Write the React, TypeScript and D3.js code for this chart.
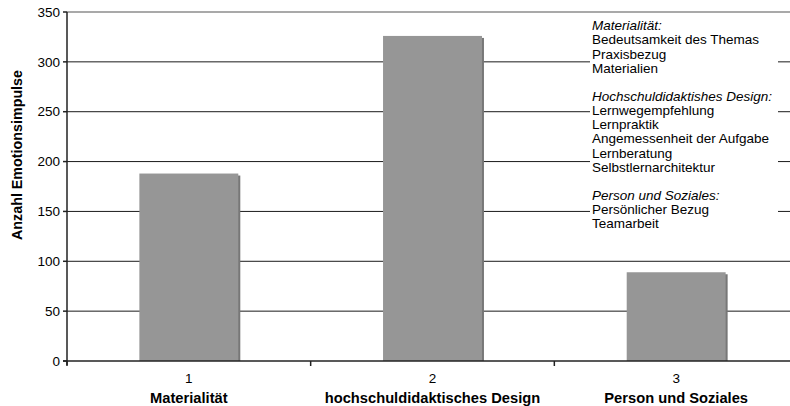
import React from "react";
import * as d3 from "d3";

const categories = ["1", "2", "3"];
const categoryNames = ["Materialität", "hochschuldidaktisches Design", "Person und Soziales"];
const values = [188, 326, 89];
const yTicks = [0, 50, 100, 150, 200, 250, 300, 350];
const noteLines: { text: string; italic?: boolean }[] = [
  { text: "Materialität:", italic: true },
  { text: "Bedeutsamkeit des Themas" },
  { text: "Praxisbezug" },
  { text: "Materialien" },
  { text: "" },
  { text: "Hochschuldidaktishes Design:", italic: true },
  { text: "Lernwegempfehlung" },
  { text: "Lernpraktik" },
  { text: "Angemessenheit der Aufgabe" },
  { text: "Lernberatung" },
  { text: "Selbstlernarchitektur" },
  { text: "" },
  { text: "Person und Soziales:", italic: true },
  { text: "Persönlicher Bezug" },
  { text: "Teamarbeit" },
];

const W = 790;
const H = 406;
const left = 67;
const plotW = 731;
const top = 12;
const bottom = 361;
const font = "'Liberation Sans', Arial, sans-serif";

export default function App() {
  const x = d3.scaleBand<string>().domain(categories).range([left, left + plotW]).paddingInner(0.594).paddingOuter(0.297);
  const y = d3.scaleLinear().domain([0, 350]).range([bottom, top]);
  const bw = x.bandwidth();
  const step = x.step();
  return (
    <svg width={W} height={H} style={{ position: "absolute", left: 0, top: 0, background: "#fff" }} fontFamily={font}>
      {/* grid */}
      {yTicks.filter((t) => t > 0).map((t) => (
        <line key={t} x1={left} x2={W} y1={y(t)} y2={y(t)} stroke={t === 350 ? "#8c8c8c" : "#1a1a1a"} strokeWidth={t === 350 ? 1.5 : 1} />
      ))}
      {/* note box */}
      <rect x={590} y={18} width={188} height={234} fill="#fff" />
      {noteLines.map((l, i) => (
        <text key={i} x={592} y={25.5 + i * 14.15} dy="0.35em" fontSize={13.5} fontStyle={l.italic ? "italic" : "normal"} fill="#000">
          {l.text}
        </text>
      ))}
      {/* bars */}
      {values.map((v, i) => {
        const bx = x(categories[i])!;
        return (
          <g key={i}>
            <rect x={bx + 2} y={y(v) + 2} width={bw} height={bottom - y(v) - 2} fill="#777" />
            <rect x={bx} y={y(v)} width={bw} height={bottom - y(v)} fill="#969696" />
          </g>
        );
      })}
      {/* axes */}
      <line x1={left} x2={left} y1={top} y2={bottom + 4} stroke="#222" strokeWidth={1.5} />
      <line x1={left - 4} x2={W} y1={bottom} y2={bottom} stroke="#222" strokeWidth={1.5} />
      {yTicks.map((t) => (
        <g key={t}>
          <line x1={left - 4} x2={left} y1={y(t)} y2={y(t)} stroke="#222" strokeWidth={1.5} />
          <text x={left - 7} y={y(t)} dy="0.35em" textAnchor="end" fontSize={13.5} fill="#000">
            {t}
          </text>
        </g>
      ))}
      {categories.map((c, i) => {
        const cx = x(c)! + bw / 2;
        const bx0 = x(c)! - (step - bw) / 2;
        return (
          <g key={c}>
            <line x1={bx0} x2={bx0} y1={bottom} y2={bottom + 5} stroke="#222" strokeWidth={1.5} />
            <text x={cx} y={378} dy="0.35em" textAnchor="middle" fontSize={13.5} fill="#000">
              {c}
            </text>
            <text x={cx} y={398} dy="0.35em" textAnchor="middle" fontSize={14.7} fontWeight="bold" fill="#000">
              {categoryNames[i]}
            </text>
          </g>
        );
      })}
      <text transform={`translate(16.5, 155) rotate(-90)`} dy="0.35em" textAnchor="middle" fontSize={14.3} fontWeight="bold" fill="#000">
        Anzahl Emotionsimpulse
      </text>
    </svg>
  );
}
